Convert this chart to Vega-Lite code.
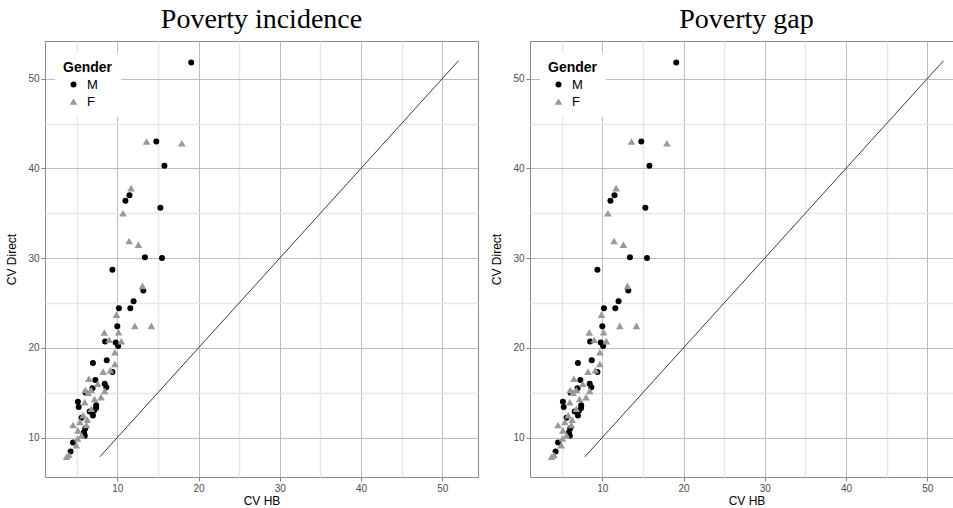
{
  "$schema": "https://vega.github.io/schema/vega-lite/v6.json",
  "background": "white",
  "padding": {"left": 5, "top": 5, "right": 5, "bottom": 2},
  "config": {
    "view": {"stroke": "#8a8a8a", "strokeWidth": 1},
    "axis": {
      "domain": false,
      "labelFont": "Liberation Sans",
      "labelFontSize": 10,
      "labelColor": "#4d4d4d",
      "titleFont": "Liberation Sans",
      "titleFontSize": 12,
      "titleFontWeight": "normal",
      "titleColor": "black",
      "tickColor": "#7f7f7f",
      "tickSize": 4,
      "labelPadding": 2
    },
    "legend": {
      "titleFont": "Liberation Sans",
      "titleFontSize": 14,
      "titleFontWeight": "bold",
      "titleColor": "black",
      "labelFont": "Liberation Sans",
      "labelFontSize": 13,
      "labelColor": "black",
      "symbolSize": 45,
      "symbolOffset": 4,
      "labelOffset": 7,
      "rowPadding": 3,
      "titlePadding": 3
    }
  },
  "datasets": {
    "pts": [
      {"Gender": "M", "CVHB": 19.1, "CVDirect": 51.8},
      {"Gender": "M", "CVHB": 14.8, "CVDirect": 43.0},
      {"Gender": "M", "CVHB": 15.8, "CVDirect": 40.3},
      {"Gender": "M", "CVHB": 11.5, "CVDirect": 37.0},
      {"Gender": "M", "CVHB": 11.0, "CVDirect": 36.4},
      {"Gender": "M", "CVHB": 15.3, "CVDirect": 35.6},
      {"Gender": "M", "CVHB": 13.4, "CVDirect": 30.1},
      {"Gender": "M", "CVHB": 15.5, "CVDirect": 30.0},
      {"Gender": "M", "CVHB": 9.4, "CVDirect": 28.7},
      {"Gender": "M", "CVHB": 13.2, "CVDirect": 26.4},
      {"Gender": "M", "CVHB": 12.0, "CVDirect": 25.2},
      {"Gender": "M", "CVHB": 10.2, "CVDirect": 24.4},
      {"Gender": "M", "CVHB": 11.6, "CVDirect": 24.4},
      {"Gender": "M", "CVHB": 10.0, "CVDirect": 22.4},
      {"Gender": "M", "CVHB": 8.5, "CVDirect": 20.7},
      {"Gender": "M", "CVHB": 9.8, "CVDirect": 20.6},
      {"Gender": "M", "CVHB": 10.1, "CVDirect": 20.2},
      {"Gender": "M", "CVHB": 7.0, "CVDirect": 18.3},
      {"Gender": "M", "CVHB": 8.7, "CVDirect": 18.6},
      {"Gender": "M", "CVHB": 9.4, "CVDirect": 17.3},
      {"Gender": "M", "CVHB": 7.3, "CVDirect": 16.4},
      {"Gender": "M", "CVHB": 8.45, "CVDirect": 16.0},
      {"Gender": "M", "CVHB": 8.65, "CVDirect": 15.6},
      {"Gender": "M", "CVHB": 6.1, "CVDirect": 15.0},
      {"Gender": "M", "CVHB": 6.95, "CVDirect": 15.5},
      {"Gender": "M", "CVHB": 5.15, "CVDirect": 14.0},
      {"Gender": "M", "CVHB": 5.25, "CVDirect": 13.4},
      {"Gender": "M", "CVHB": 6.6, "CVDirect": 12.9},
      {"Gender": "M", "CVHB": 7.15, "CVDirect": 13.0},
      {"Gender": "M", "CVHB": 7.4, "CVDirect": 13.3},
      {"Gender": "M", "CVHB": 7.4, "CVDirect": 13.6},
      {"Gender": "M", "CVHB": 7.0, "CVDirect": 12.45},
      {"Gender": "M", "CVHB": 5.6, "CVDirect": 12.2},
      {"Gender": "M", "CVHB": 6.05, "CVDirect": 11.0},
      {"Gender": "M", "CVHB": 5.9, "CVDirect": 10.6},
      {"Gender": "M", "CVHB": 6.0, "CVDirect": 10.2},
      {"Gender": "M", "CVHB": 4.55, "CVDirect": 9.45},
      {"Gender": "M", "CVHB": 4.25, "CVDirect": 8.45},
      {"Gender": "F", "CVHB": 13.6, "CVDirect": 43.0},
      {"Gender": "F", "CVHB": 17.95, "CVDirect": 42.8},
      {"Gender": "F", "CVHB": 11.7, "CVDirect": 37.8},
      {"Gender": "F", "CVHB": 10.7, "CVDirect": 35.0},
      {"Gender": "F", "CVHB": 11.45, "CVDirect": 31.9},
      {"Gender": "F", "CVHB": 12.6, "CVDirect": 31.5},
      {"Gender": "F", "CVHB": 13.1, "CVDirect": 26.9},
      {"Gender": "F", "CVHB": 9.9, "CVDirect": 23.7},
      {"Gender": "F", "CVHB": 12.15, "CVDirect": 22.45},
      {"Gender": "F", "CVHB": 14.2, "CVDirect": 22.45},
      {"Gender": "F", "CVHB": 8.4, "CVDirect": 21.7},
      {"Gender": "F", "CVHB": 10.15, "CVDirect": 21.75},
      {"Gender": "F", "CVHB": 9.0, "CVDirect": 20.9},
      {"Gender": "F", "CVHB": 10.5, "CVDirect": 20.75},
      {"Gender": "F", "CVHB": 9.7, "CVDirect": 19.5},
      {"Gender": "F", "CVHB": 9.7, "CVDirect": 18.2},
      {"Gender": "F", "CVHB": 8.25, "CVDirect": 17.35},
      {"Gender": "F", "CVHB": 9.15, "CVDirect": 17.5},
      {"Gender": "F", "CVHB": 6.5, "CVDirect": 16.55},
      {"Gender": "F", "CVHB": 7.6, "CVDirect": 16.0},
      {"Gender": "F", "CVHB": 6.8, "CVDirect": 15.3},
      {"Gender": "F", "CVHB": 6.05, "CVDirect": 15.3},
      {"Gender": "F", "CVHB": 8.45, "CVDirect": 15.2},
      {"Gender": "F", "CVHB": 6.4, "CVDirect": 15.0},
      {"Gender": "F", "CVHB": 8.0, "CVDirect": 14.5},
      {"Gender": "F", "CVHB": 7.2, "CVDirect": 14.3},
      {"Gender": "F", "CVHB": 6.0, "CVDirect": 13.95},
      {"Gender": "F", "CVHB": 6.8, "CVDirect": 13.2},
      {"Gender": "F", "CVHB": 5.8, "CVDirect": 12.5},
      {"Gender": "F", "CVHB": 6.3, "CVDirect": 12.0},
      {"Gender": "F", "CVHB": 5.4, "CVDirect": 11.75},
      {"Gender": "F", "CVHB": 4.55, "CVDirect": 11.4},
      {"Gender": "F", "CVHB": 6.2, "CVDirect": 11.4},
      {"Gender": "F", "CVHB": 5.15, "CVDirect": 10.8},
      {"Gender": "F", "CVHB": 5.6, "CVDirect": 10.25},
      {"Gender": "F", "CVHB": 5.1, "CVDirect": 9.9},
      {"Gender": "F", "CVHB": 4.95, "CVDirect": 9.15},
      {"Gender": "F", "CVHB": 4.05, "CVDirect": 8.05},
      {"Gender": "F", "CVHB": 3.75, "CVDirect": 7.85}
    ],
    "diag": [
      {"CVHB": 7.85, "CVDirect": 7.85},
      {"CVHB": 52.0, "CVDirect": 52.0}
    ]
  },
  "spacing": 11,
  "resolve": {"scale": {"color": "independent", "shape": "independent", "size": "independent"}},
  "hconcat": [
    {
      "width": 433,
      "height": 436,
      "title": {"text": "Poverty incidence", "font": "Liberation Serif", "fontSize": 28, "fontWeight": "normal", "color": "black", "anchor": "middle", "frame": "group", "offset": 7},
      "layer": [
        {
          "data": {"name": "diag"},
          "mark": {"type": "line", "color": "#3a3a3a", "strokeWidth": 1},
          "encoding": {
            "x": {"field": "CVHB", "type": "quantitative", "scale": {"domain": [1.1, 54.4], "nice": false, "zero": false},
              "axis": {"title": "CV HB", "titlePadding": 2, "values": [5, 10, 15, 20, 25, 30, 35, 40, 45, 50],
                "labelExpr": "datum.value % 10 === 0 ? datum.label : ''",
                "tickOpacity": {"condition": {"test": "datum.value % 10 === 0", "value": 1}, "value": 0},
                "gridColor": {"condition": {"test": "datum.value % 10 === 0", "value": "#bdbdbd"}, "value": "#e8e8e8"},
                "gridWidth": {"condition": {"test": "datum.value % 10 === 0", "value": 1}, "value": 1.5}}},
            "y": {"field": "CVDirect", "type": "quantitative", "scale": {"domain": [5.6, 54.2], "nice": false, "zero": false},
              "axis": {"title": "CV Direct", "titlePadding": 9, "values": [10, 15, 20, 25, 30, 35, 40, 45, 50],
                "labelExpr": "datum.value % 10 === 0 ? datum.label : ''",
                "tickOpacity": {"condition": {"test": "datum.value % 10 === 0", "value": 1}, "value": 0},
                "gridColor": {"condition": {"test": "datum.value % 10 === 0", "value": "#bdbdbd"}, "value": "#e8e8e8"},
                "gridWidth": {"condition": {"test": "datum.value % 10 === 0", "value": 1}, "value": 1.5}}}
          }
        },
        {
          "data": {"name": "pts"},
          "mark": {"type": "point", "filled": true, "opacity": 1},
          "encoding": {
            "x": {"field": "CVHB", "type": "quantitative"},
            "y": {"field": "CVDirect", "type": "quantitative"},
            "size": {"field": "Gender", "type": "nominal", "scale": {"domain": ["M", "F"], "range": [36, 58]}, "legend": null},
            "color": {"field": "Gender", "type": "nominal", "scale": {"domain": ["M", "F"], "range": ["#000000", "#999999"]},
              "legend": {"orient": "none", "legendX": 10, "legendY": 12, "title": "Gender", "fillColor": "white", "padding": 8}},
            "shape": {"field": "Gender", "type": "nominal", "scale": {"domain": ["M", "F"], "range": ["circle", "triangle-up"]},
              "legend": {"orient": "none", "legendX": 10, "legendY": 12, "title": "Gender", "fillColor": "white", "padding": 8}}
          }
        }
      ]
    },
    {
      "width": 433,
      "height": 436,
      "title": {"text": "Poverty gap", "font": "Liberation Serif", "fontSize": 28, "fontWeight": "normal", "color": "black", "anchor": "middle", "frame": "group", "offset": 7},
      "layer": [
        {
          "data": {"name": "diag"},
          "mark": {"type": "line", "color": "#3a3a3a", "strokeWidth": 1},
          "encoding": {
            "x": {"field": "CVHB", "type": "quantitative", "scale": {"domain": [1.1, 54.4], "nice": false, "zero": false},
              "axis": {"title": "CV HB", "titlePadding": 2, "values": [5, 10, 15, 20, 25, 30, 35, 40, 45, 50],
                "labelExpr": "datum.value % 10 === 0 ? datum.label : ''",
                "tickOpacity": {"condition": {"test": "datum.value % 10 === 0", "value": 1}, "value": 0},
                "gridColor": {"condition": {"test": "datum.value % 10 === 0", "value": "#bdbdbd"}, "value": "#e8e8e8"},
                "gridWidth": {"condition": {"test": "datum.value % 10 === 0", "value": 1}, "value": 1.5}}},
            "y": {"field": "CVDirect", "type": "quantitative", "scale": {"domain": [5.6, 54.2], "nice": false, "zero": false},
              "axis": {"title": "CV Direct", "titlePadding": 9, "values": [10, 15, 20, 25, 30, 35, 40, 45, 50],
                "labelExpr": "datum.value % 10 === 0 ? datum.label : ''",
                "tickOpacity": {"condition": {"test": "datum.value % 10 === 0", "value": 1}, "value": 0},
                "gridColor": {"condition": {"test": "datum.value % 10 === 0", "value": "#bdbdbd"}, "value": "#e8e8e8"},
                "gridWidth": {"condition": {"test": "datum.value % 10 === 0", "value": 1}, "value": 1.5}}}
          }
        },
        {
          "data": {"name": "pts"},
          "mark": {"type": "point", "filled": true, "opacity": 1},
          "encoding": {
            "x": {"field": "CVHB", "type": "quantitative"},
            "y": {"field": "CVDirect", "type": "quantitative"},
            "size": {"field": "Gender", "type": "nominal", "scale": {"domain": ["M", "F"], "range": [36, 58]}, "legend": null},
            "color": {"field": "Gender", "type": "nominal", "scale": {"domain": ["M", "F"], "range": ["#000000", "#999999"]},
              "legend": {"orient": "none", "legendX": 10, "legendY": 12, "title": "Gender", "fillColor": "white", "padding": 8}},
            "shape": {"field": "Gender", "type": "nominal", "scale": {"domain": ["M", "F"], "range": ["circle", "triangle-up"]},
              "legend": {"orient": "none", "legendX": 10, "legendY": 12, "title": "Gender", "fillColor": "white", "padding": 8}}
          }
        }
      ]
    }
  ]
}
